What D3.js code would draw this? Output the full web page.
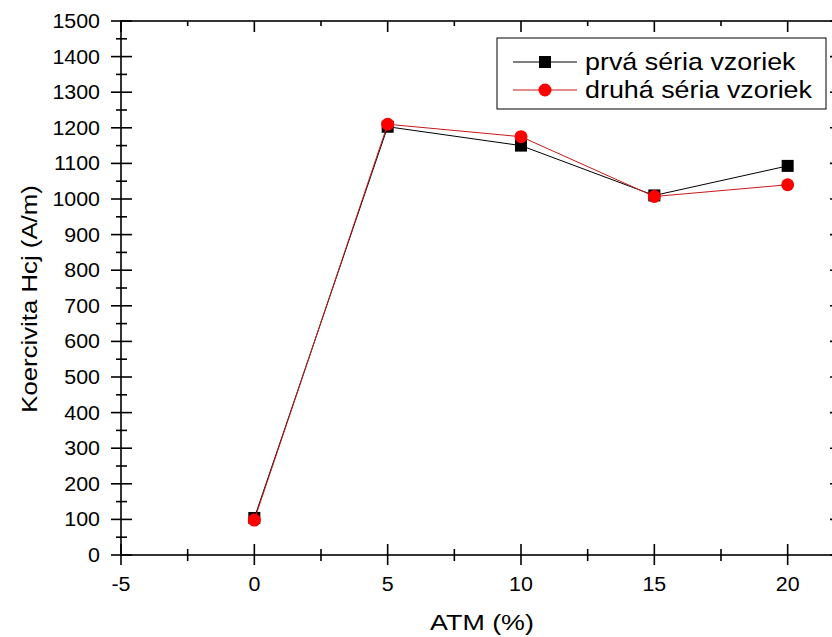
<!DOCTYPE html>
<html>
<head>
<meta charset="utf-8">
<script src="https://cdn.jsdelivr.net/npm/d3@7"></script>
<style>
  html, body { margin: 0; padding: 0; background: #fff; }
  svg text { font-family: "Liberation Sans", Arial, sans-serif; fill: #000; }
</style>
</head>
<body>
<svg id="chart" width="832" height="637"></svg>
<script>
// ---- data ----
const atm = [0, 5, 10, 15, 20];
const seria1 = [104, 1203, 1150, 1010, 1093];   // prvá séria vzoriek
const seria2 = [98, 1210, 1175, 1007, 1040];    // druhá séria vzoriek
const seriesNames = ["prvá séria vzoriek", "druhá séria vzoriek"];
const xTicks = [-5, 0, 5, 10, 15, 20];
const yTicks = [0, 100, 200, 300, 400, 500, 600, 700, 800, 900, 1000, 1100, 1200, 1300, 1400, 1500];
const xTitle = "ATM (%)";
const yTitle = "Koercivita Hcj (A/m)";

// ---- layout ----
const svg = d3.select("#chart");
const L = 121, R = 841, T = 21, B = 555;
const x = d3.scaleLinear().domain([-5, 22]).range([L, R]);
const y = d3.scaleLinear().domain([0, 1500]).range([B, T]);

const xMinor = d3.range(-5, 22.01, 2.5).filter(v => !xTicks.includes(v));
const yMinor = d3.range(50, 1500, 100);

const g = svg.append("g");

// frame
g.append("rect").attr("x", L).attr("y", T).attr("width", R - L).attr("height", B - T)
  .attr("fill", "none").attr("stroke", "#000").attr("stroke-width", 1.6);

const tk = g.append("g").attr("stroke", "#000").attr("stroke-width", 1.6);
xTicks.forEach(v => tk.append("line").attr("x1", x(v)).attr("x2", x(v)).attr("y1", B - 11).attr("y2", B + 10));
xMinor.forEach(v => tk.append("line").attr("x1", x(v)).attr("x2", x(v)).attr("y1", B - 6).attr("y2", B + 6));
xTicks.forEach(v => tk.append("line").attr("x1", x(v)).attr("x2", x(v)).attr("y1", T).attr("y2", T + 11));
xMinor.forEach(v => tk.append("line").attr("x1", x(v)).attr("x2", x(v)).attr("y1", T).attr("y2", T + 5));
yTicks.forEach(v => tk.append("line").attr("y1", y(v)).attr("y2", y(v)).attr("x1", L - 10).attr("x2", L + 11));
yMinor.forEach(v => tk.append("line").attr("y1", y(v)).attr("y2", y(v)).attr("x1", L - 5).attr("x2", L + 6));
yTicks.forEach(v => tk.append("line").attr("y1", y(v)).attr("y2", y(v)).attr("x1", R - 11).attr("x2", R));
yMinor.forEach(v => tk.append("line").attr("y1", y(v)).attr("y2", y(v)).attr("x1", R - 5).attr("x2", R));

function stext(parent, tx, ty, str, size, sx, anchor, rot) {
  return parent.append("text")
    .attr("transform", `translate(${tx},${ty}) rotate(${rot || 0}) scale(${sx},1)`)
    .attr("font-size", size)
    .attr("text-anchor", anchor || "start")
    .text(str);
}

// tick labels
xTicks.forEach(v => stext(g, x(v), 591, String(v), 20, 1.07, "middle"));
yTicks.forEach(v => stext(g, 100, y(v) + 7, String(v), 20, 1.07, "end"));

// axis titles
stext(g, (L + R) / 2 + 1, 630, xTitle, 22, 1.22, "middle");
stext(g, 37, (T + B) / 2 + 11, yTitle, 23, 1.12, "middle", -90);

// lines
const line = d3.line().x(d => x(d[0])).y(d => y(d[1]));
const d1 = atm.map((v, i) => [v, seria1[i]]);
const d2 = atm.map((v, i) => [v, seria2[i]]);

g.append("path").datum(d1).attr("d", line).attr("fill", "none").attr("stroke", "#000").attr("stroke-width", 1);
g.selectAll(".sq").data(d1).enter().append("rect")
  .attr("x", d => x(d[0]) - 6).attr("y", d => y(d[1]) - 6).attr("width", 12).attr("height", 12).attr("fill", "#000");

g.append("path").datum(d2).attr("d", line).attr("fill", "none").attr("stroke", "#c81818").attr("stroke-width", 1);
g.selectAll(".ci").data(d2).enter().append("circle")
  .attr("cx", d => x(d[0])).attr("cy", d => y(d[1])).attr("r", 6.5).attr("fill", "#ff0000");

// legend
const lg = g.append("g");
lg.append("rect").attr("x", 497).attr("y", 38).attr("width", 329).attr("height", 71)
  .attr("fill", "#fff").attr("stroke", "#000").attr("stroke-width", 1);
const rows = [62, 90];
lg.append("line").attr("x1", 513).attr("x2", 577).attr("y1", rows[0]).attr("y2", rows[0]).attr("stroke", "#000").attr("stroke-width", 1);
lg.append("rect").attr("x", 545 - 6).attr("y", rows[0] - 6).attr("width", 12).attr("height", 12).attr("fill", "#000");
stext(lg, 585, rows[0] + 8, seriesNames[0], 24, 1.12, "start");
lg.append("line").attr("x1", 513).attr("x2", 577).attr("y1", rows[1]).attr("y2", rows[1]).attr("stroke", "#c81818").attr("stroke-width", 1);
lg.append("circle").attr("cx", 545).attr("cy", rows[1]).attr("r", 6.5).attr("fill", "#ff0000");
stext(lg, 585, rows[1] + 8, seriesNames[1], 24, 1.12, "start");
</script>
</body>
</html>
